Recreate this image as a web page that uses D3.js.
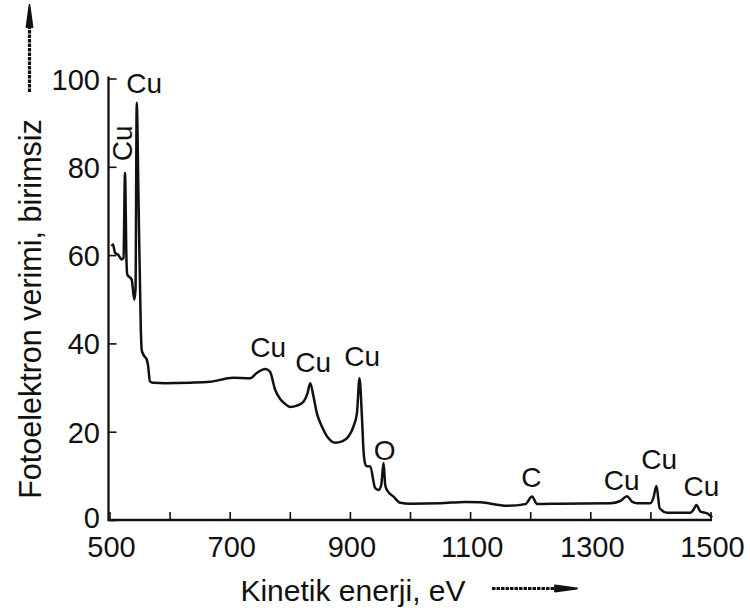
<!DOCTYPE html>
<html>
<head>
<meta charset="utf-8">
<script src="https://cdn.jsdelivr.net/npm/d3@7"></script>
<style>
  html, body { margin: 0; padding: 0; background: #fff; }
  svg { display: block; }
  text { font-family: "Liberation Sans", Arial, Helvetica, sans-serif; fill: #111; }
</style>
</head>
<body>
<svg id="chart" width="750" height="616"></svg>
<script>
// XPS survey spectrum of copper: kinetic energy (eV) vs photoelectron yield (a.u.)
const energy = [503.7, 505.8, 509.2, 514.2, 520.3, 523.3, 525.8, 528.3, 529.6, 537, 541.3, 543.3, 545.3, 548.3,
  552, 553.6, 556.6, 562, 564, 567.4, 572.4, 592.4, 634, 667, 705.7, 734, 745, 759, 767, 775.6, 784, 792.2,
  800.6, 811.7, 822.7, 829.4, 834, 839.4, 845, 853.4, 864.4, 875.5, 886.7, 897.7, 906, 911.7, 916, 920, 922.6,
  925, 927.5, 933.8, 942.1, 947.6, 952.1, 956, 958.8, 961.6, 972.6, 983.8, 1000.4, 1050.4, 1092, 1117, 1161.4,
  1192, 1203, 1211.4, 1250, 1333.5, 1350, 1361, 1370, 1378, 1400, 1405, 1410, 1415.5, 1428, 1466.7, 1471.5,
  1476.5, 1483.2, 1494.5, 1502.8];
const yieldValues = [62.0, 62.4, 60.5, 60.1, 59.0, 59.4, 78.6, 58.5, 55.6, 54.4, 49.9, 52.2, 94.5, 72.6,
  43.8, 38.5, 37.4, 36.3, 35.1, 31.4, 31.1, 31.0, 31.1, 31.3, 32.2, 32.1, 33.3, 34.2, 33.6, 29.5, 27.4, 26.3,
  25.6, 25.9, 26.8, 28.7, 31.0, 28.0, 24.2, 21.2, 18.5, 17.5, 17.8, 18.9, 21.2, 24.2, 32.1, 23.4, 15.9,
  12.9, 12.2, 12.1, 7.2, 6.8, 7.9, 12.9, 7.9, 6.8, 5.3, 3.9, 3.7, 3.8, 4.1, 4.0, 3.2,
  3.6, 5.3, 3.6, 3.7, 3.8, 4.3, 5.4, 4.1, 3.8, 3.8, 5.0, 7.7, 2.65, 1.65, 1.65, 2.3,
  3.4, 1.9, 1.5, 0.6];

// axis ticks
const xTicks = [500, 600, 700, 800, 900, 1000, 1100, 1200, 1300, 1400, 1500];
const xTickLabels = [500, 700, 900, 1100, 1300, 1500];
const yTicks = [0, 20, 40, 60, 80, 100];

// peak annotations: text, anchor energy (eV), anchor yield (baseline), rotated?
const peakText = ["Cu", "Cu", "Cu", "Cu", "Cu", "O", "C", "Cu", "Cu", "Cu"];
const peakEnergy = [557.5, 537, 764, 839, 920.5, 958, 1202, 1352, 1414.6, 1485];
const peakLevel = [96.8, 85.3, 37.0, 33.6, 34.9, 13.6, 7.5, 6.8, 11.6, 5.4];
const peakRotated = [false, true, false, false, false, false, false, false, false, false];

const svg = d3.select("#chart");
const x = d3.scaleLinear().domain([500, 1500]).range([109.5, 710.5]);
const y = d3.scaleLinear().domain([0, 100]).range([520, 78.5]);

const ink = "#111";

// axes drawn with inward ticks
const xAxis = d3.axisBottom(x).tickValues(xTicks).tickSizeInner(-8).tickSizeOuter(0).tickFormat("");
const gx = svg.append("g").attr("transform", `translate(0,${y(0)})`).call(xAxis);
gx.select(".domain").attr("stroke", ink).attr("stroke-width", 2.3).attr("d", `M${x(500) - 1.5},0H${x(1500) + 1.5}`);
gx.selectAll(".tick line").attr("stroke", ink).attr("stroke-width", 1.6);

const yAxis = d3.axisLeft(y).tickValues(yTicks).tickSizeInner(-8).tickSizeOuter(0).tickFormat("");
const gy = svg.append("g").attr("transform", `translate(${x(500) - 1},0)`).call(yAxis);
gy.select(".domain").attr("stroke", ink).attr("stroke-width", 2.3).attr("d", `M0,${y(0) + 1}V${y(100) - 2}`);
gy.selectAll(".tick line").attr("stroke", ink).attr("stroke-width", 1.6);

// tick labels
svg.append("g").selectAll("text").data(xTickLabels).join("text")
  .attr("x", d => x(d) + 2)
  .attr("y", 557)
  .attr("text-anchor", "middle")
  .attr("font-size", 29)
  .text(d => d);

svg.append("g").selectAll("text").data(yTicks).join("text")
  .attr("x", 100)
  .attr("y", d => y(d) + (d === 0 ? 8 : 11))
  .attr("text-anchor", "end")
  .attr("font-size", 29)
  .text(d => d);

// axis titles
svg.append("text")
  .attr("transform", "translate(41,309) rotate(-90)")
  .attr("text-anchor", "middle")
  .attr("font-size", 30.5)
  .text("Fotoelektron verimi, birimsiz");

svg.append("text")
  .attr("x", 353)
  .attr("y", 601)
  .attr("text-anchor", "middle")
  .attr("font-size", 30)
  .text("Kinetik enerji, eV");

// dotted direction arrows beside the axis titles
function arrow(x1, y1, x2, y2) {
  const ang = Math.atan2(y2 - y1, x2 - x1);
  const len = Math.hypot(x2 - x1, y2 - y1);
  const g = svg.append("g").attr("transform", `translate(${x1},${y1}) rotate(${ang * 180 / Math.PI})`);
  g.append("line")
    .attr("x1", 0).attr("y1", 0).attr("x2", len - 12).attr("y2", 0)
    .attr("stroke", ink).attr("stroke-width", 3.2)
    .attr("stroke-dasharray", "3.5,1");
  g.append("path")
    .attr("d", `M${len - 22},-3L${len},0L${len - 22},3Z`)
    .attr("fill", ink)
    .attr("stroke", ink).attr("stroke-width", 1.8).attr("stroke-linejoin", "round");
}
arrow(29.5, 92, 29.5, 5);
arrow(492, 588.5, 577, 588.5);

// spectrum
const line = d3.line()
  .x((d, i) => x(energy[i]))
  .y(d => y(d))
  .curve(d3.curveMonotoneX);
svg.append("path")
  .datum(yieldValues)
  .attr("fill", "none")
  .attr("stroke", ink)
  .attr("stroke-width", 2.5)
  .attr("stroke-linejoin", "round")
  .attr("d", line);

// peak labels
svg.append("g").selectAll("text").data(peakText).join("text")
  .attr("transform", (d, i) => peakRotated[i]
    ? `translate(${x(peakEnergy[i])},${y(peakLevel[i])}) rotate(-90)`
    : `translate(${x(peakEnergy[i])},${y(peakLevel[i])})`)
  .attr("text-anchor", "middle")
  .attr("font-size", 28)
  .text(d => d);
</script>
</body>
</html>
